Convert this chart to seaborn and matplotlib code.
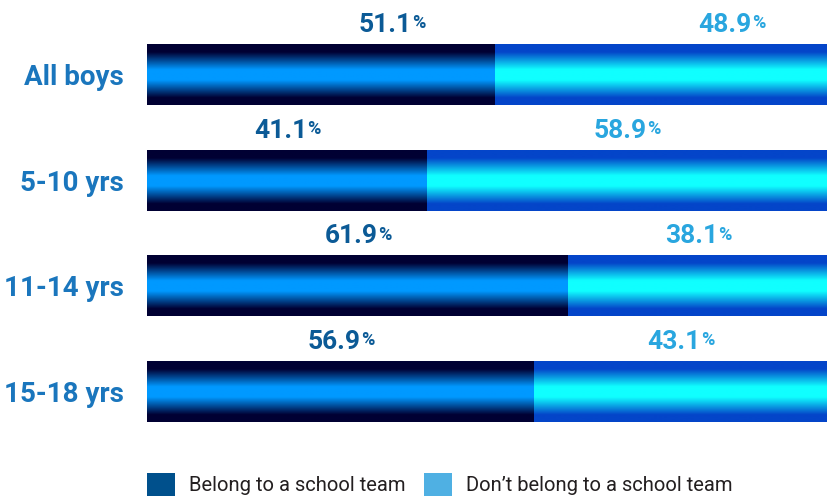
import numpy as np
import pandas as pd
import matplotlib
matplotlib.use("Agg")
import matplotlib.pyplot as plt
from matplotlib.colors import LinearSegmentedColormap
from matplotlib.patches import Patch
import seaborn as sns

# Share of boys who belong / don't belong to a school team
groups = ["All boys", "5-10 yrs", "11-14 yrs", "15-18 yrs"]
belong = [51.1, 41.1, 61.9, 56.9]
not_belong = [48.9, 58.9, 38.1, 43.1]
series_names = ["Belong to a school team", "Don\u2019t belong to a school team"]

df = pd.DataFrame({"group": groups, "belong": belong, "not_belong": not_belong})
df["total"] = df["belong"] + df["not_belong"]

sns.set_theme(style="white")
plt.rcParams["font.family"] = ["Roboto", "DejaVu Sans"]

TICK_BLUE = "#1a76bd"
DARK_LABEL = "#0b5a96"
LIGHT_LABEL = "#29a6df"
LEGEND_DARK = "#00508c"
LEGEND_LIGHT = "#4fb0e3"

fig = plt.figure(figsize=(8.27, 4.97), dpi=100)
ax = fig.add_axes([147 / 827, 52 / 497, 680 / 827, 425 / 497])

bar_w = 0.577
sns.barplot(data=df, x="total", y="group", orient="h", color=LEGEND_LIGHT,
            width=bar_w, ax=ax, saturation=1)
n_back = len(ax.patches)
sns.barplot(data=df, x="belong", y="group", orient="h", color=LEGEND_DARK,
            width=bar_w, ax=ax, saturation=1)

# Glossy tube gradients: dark edges, bright core
stops = [0.0, 0.13, 0.42, 0.59, 0.88, 1.0]
cmap_dark = LinearSegmentedColormap.from_list(
    "tube_dark", list(zip(stops, ["#000033", "#000033", "#0099ff", "#0099ff", "#000033", "#000033"])))
cmap_light = LinearSegmentedColormap.from_list(
    "tube_light", list(zip(stops, ["#0445c9", "#0445c9", "#10ffff", "#10ffff", "#0445c9", "#0445c9"])))
grad = np.linspace(0, 1, 256).reshape(-1, 1)

for k, p in enumerate(list(ax.patches)):
    x0, y0 = p.get_x(), p.get_y()
    w, h = p.get_width(), p.get_height()
    cmap = cmap_light if k < n_back else cmap_dark
    im = ax.imshow(grad, cmap=cmap, aspect="auto", interpolation="bilinear",
                   extent=(x0, x0 + w, y0 + h, y0), origin="upper",
                   zorder=1 if k < n_back else 2)
    im.set_clip_path(p)
    p.set_facecolor("none")
    p.set_edgecolor("none")

ax.set_xlim(0, 100)
ax.set_ylim(3.506, -0.516)

# Value labels above each segment
label_shift = [10.4, 0, 0, 0]
for i in range(len(groups)):
    top = i - bar_w / 2
    segs = [(belong[i] / 2, belong[i], DARK_LABEL),
            (belong[i] + not_belong[i] / 2, not_belong[i], LIGHT_LABEL)]
    for cx, val, col in segs:
        t = ax.annotate(f"{val:.1f}", xy=(cx + label_shift[i], top),
                        xytext=(-4.5, 8.6), textcoords="offset points",
                        ha="center", va="baseline", fontsize=19,
                        fontweight="bold", color=col, annotation_clip=False)
        ax.annotate("%", xy=(1, 1), xycoords=t, xytext=(0, -0.8),
                    textcoords="offset points", ha="left", va="top",
                    fontsize=13, fontweight="bold", color=col)

ax.set_xlabel("")
ax.set_ylabel("")
ax.set_xticks([])
ax.tick_params(axis="y", length=0, pad=16.5)
for lab in ax.get_yticklabels():
    lab.set_fontsize(20)
    lab.set_fontweight("bold")
    lab.set_color(TICK_BLUE)
for s in ax.spines.values():
    s.set_visible(False)

handles = [Patch(facecolor=LEGEND_DARK, edgecolor="none", label=series_names[0]),
           Patch(facecolor=LEGEND_LIGHT, edgecolor="none", label=series_names[1])]
fig.legend(handles=handles, loc="lower left", bbox_to_anchor=(147 / 827, 1.3 / 497),
           bbox_transform=fig.transFigure, ncol=2, frameon=False, fontsize=14.5,
           borderpad=0, borderaxespad=0, handlelength=1.39, handleheight=1.39,
           handletextpad=0.7, columnspacing=0.9, labelcolor="#231f20")

fig.savefig("out.png", dpi=100)
